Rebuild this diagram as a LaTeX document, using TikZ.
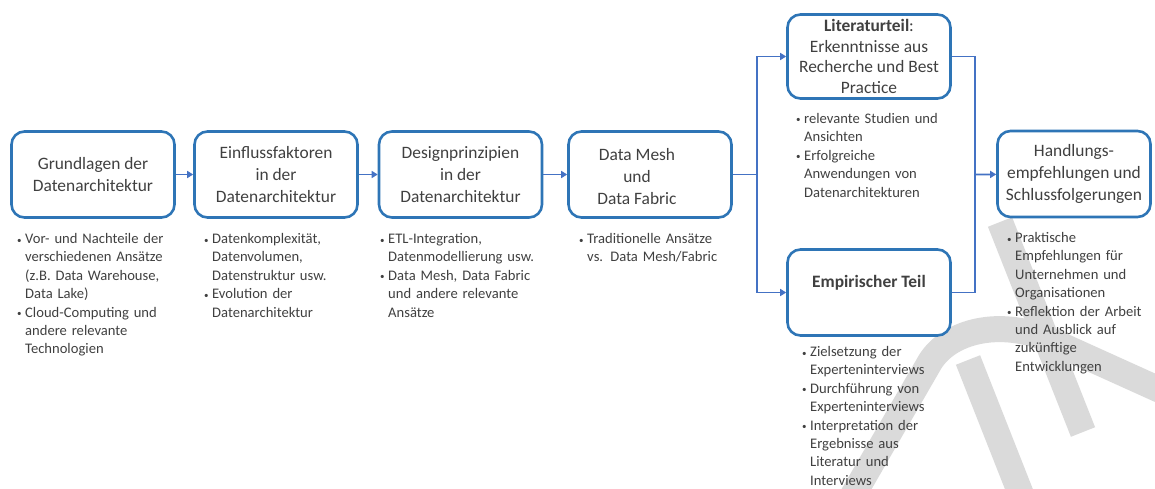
\documentclass[tikz,border=0pt]{standalone}
\usepackage{fontspec}
\setmainfont{Carlito}
\usetikzlibrary{arrows.meta}
\definecolor{boxblue}{RGB}{46,117,182}
\definecolor{arrblue}{RGB}{68,114,196}
\definecolor{txt}{RGB}{64,64,64}
\definecolor{wm}{RGB}{218,218,218}
\newcommand{\bi}{\hspace*{-8pt}\makebox[8pt][l]{\fontsize{9}{9}\selectfont\raisebox{0.5pt}{•}}}
\newcommand{\hang}{\leftskip=8pt\relax}
\begin{document}
\begin{tikzpicture}[x=1pt,y=-1pt,
  box/.style={draw=boxblue, line width=2.6pt, rounded corners=13pt, fill=white,
    minimum width=163pt, minimum height=86pt, align=center, text=txt,
    font=\fontsize{17.4}{22}\selectfont, inner sep=0pt},
  lbl/.style={align=center, text=txt, font=\fontsize{17.4}{22}\selectfont, inner sep=0pt},
  bl/.style={anchor=base west, inner sep=0pt, text width=175pt, text=txt,
    font=\fontsize{14.6}{18.4}\selectfont},
  conn/.style={draw=arrblue, line width=1.8pt},
  arr/.style={conn, -{Triangle[length=6pt,width=7pt]}},
  wmark/.style={draw=wm, line width=26pt}]
\useasboundingbox (0,0) rectangle (1155,489);

% watermark
\draw[wmark] (1000,222) -- (1083,432);
\draw[wmark] (852,497) -- (930,362) .. controls (950,330) and (1000,320) .. (1045,338) -- (1160,390);
\draw[wmark] (968,360) -- (1022,497);

% boxes
\node[box] (b1) at (93,174.5) {Grundlagen der\\Datenarchitektur};
\node[box] (b2) at (276,174.5) {Einflussfaktoren\\in der\\Datenarchitektur};
\node[box] (b3) at (460.5,174.5) {Designprinzipien\\in der\\Datenarchitektur};
\node[box] (b4) at (650,174.5) {};
\node[lbl] (b4t) at (637,177) {Data Mesh\\und\\Data Fabric};
\node[box, minimum height=84pt, font=\fontsize{17.4}{20.5}\selectfont] (b5) at (869,56.5)
  {\textbf{Literaturteil}:\\Erkenntnisse aus\\Recherche und Best\\Practice};
\node[box] (b6) at (869,292.5) {\textbf{Empirischer Teil}\\\mbox{}};
\node[box, minimum width=153pt] (b7) at (1074,174) {Handlungs-\\empfehlungen und\\Schlussfolgerungen};

% connectors
\coordinate (split) at (757,174.5);
\coordinate (merge) at (975,174.5);
\draw[arr] (b1) -- (b2);
\draw[arr] (b2) -- (b3);
\draw[arr] (b3) -- (b4);
\draw[conn] (b4) -- (split);
\draw[arr] (split) |- (b5);
\draw[arr] (split) |- (b6);
\draw[conn] (b5) -| (merge);
\draw[conn] (b6) -| (merge);
\draw[arr] (merge) -- (b7);

% bullet texts
\node[bl] (t1) at (17,243.5) {\hang\bi Vor- und Nachteile der\\verschiedenen Ansätze\\(z.B. Data Warehouse,\\Data Lake)\\\bi Cloud-Computing und\\andere relevante\\Technologien\par};
\node[bl] (t2) at (204,243.5) {\hang\bi Datenkomplexität,\\Datenvolumen,\\Datenstruktur usw.\\\bi Evolution der\\Datenarchitektur\par};
\node[bl] (t3) at (380,243.5) {\hang\bi ETL-Integration,\\Datenmodellierung usw.\\\bi Data Mesh, Data Fabric\\und andere relevante\\Ansätze\par};
\node[bl] (t4) at (579,243.5) {\hang\bi Traditionelle Ansätze\\vs. Data Mesh/Fabric\par};
\node[bl] (t5) at (796,123.5) {\hang\bi relevante Studien und\\Ansichten\\\bi Erfolgreiche\\Anwendungen von\\Datenarchitekturen\par};
\node[bl] (t6) at (802,356.5) {\hang\bi Zielsetzung der\\Experteninterviews\\\bi Durchführung von\\Experteninterviews\\\bi Interpretation der\\Ergebnisse aus\\Literatur und\\Interviews\par};
\node[bl] (t7) at (1007,242.5) {\hang\bi Praktische\\Empfehlungen für\\Unternehmen und\\Organisationen\\\bi Reflektion der Arbeit\\und Ausblick auf\\zukünftige\\Entwicklungen\par};
\end{tikzpicture}
\end{document}
